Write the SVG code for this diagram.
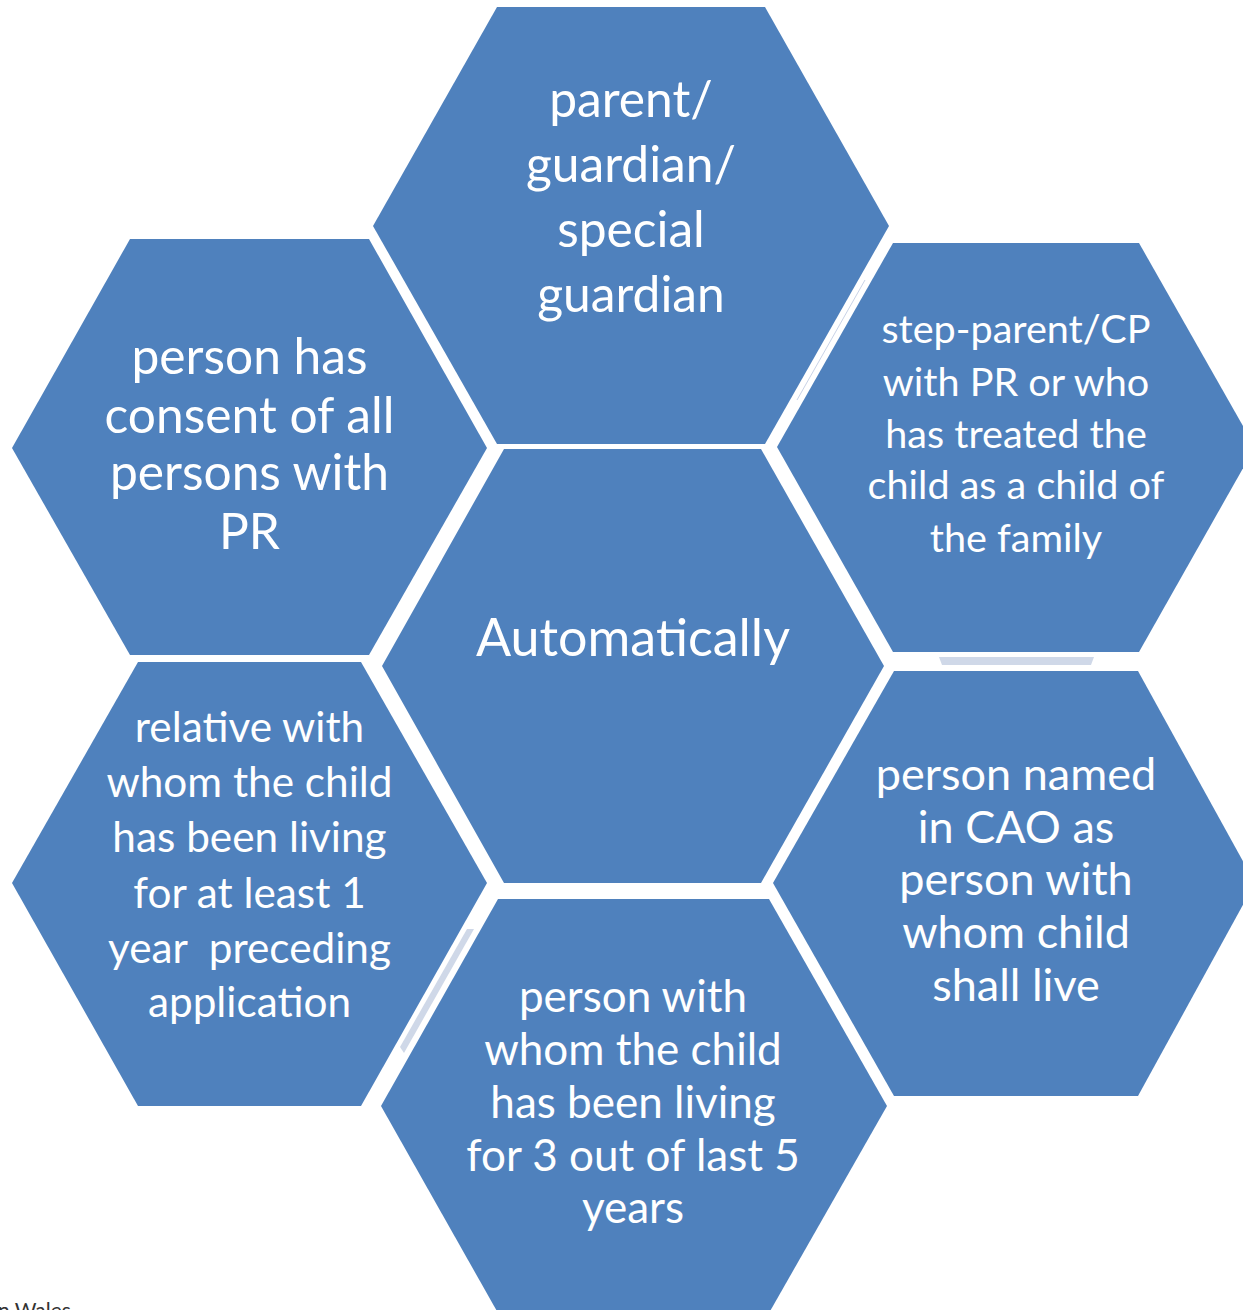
<svg xmlns="http://www.w3.org/2000/svg" width="1243" height="1310" viewBox="0 0 1243 1310">
<style>
.hex{fill:#4F81BD;}
.t{fill:#FFFFFF;font-family:Lato,"Open Sans",sans-serif;text-anchor:middle;}
.bar{fill:#CFD8E8;}
.foot{fill:#333333;font-family:Lato,"Open Sans",sans-serif;font-size:21px;}
</style>
<rect width="1243" height="1310" fill="#FFFFFF"/>
<g id="connectors">
<polygon class="bar" points="939,657 1094,657 1091,665 942,665"/>
<polygon class="bar" points="467,929 474,929 404,1053 400,1047"/>
<line x1="865" y1="280" x2="797" y2="400" stroke="#C9D3E7" stroke-width="1"/>
</g>
<g id="node-top">
<polygon class="hex" points="497,7 765,7 889,226 765,444 497,444 373,226"/>
<text class="t" font-size="49.7"><tspan x="631" y="117">parent/</tspan><tspan x="631" y="182">guardian/</tspan><tspan x="631" y="247">special</tspan><tspan x="631" y="312">guardian</tspan></text>
</g>
<g id="node-topleft">
<polygon class="hex" points="130,239 369,239 487,448 369,655 130,655 12,448"/>
<text class="t" font-size="49.7"><tspan x="249.5" y="374">person has</tspan><tspan x="249.5" y="433">consent of all</tspan><tspan x="249.5" y="490">persons with</tspan><tspan x="249.5" y="549">PR</tspan></text>
</g>
<g id="node-center">
<polygon class="hex" points="504,449 761,449 884,666 761,883 504,883 382,666"/>
<text class="t" font-size="52" x="633" y="656">Automatically</text>
</g>
<g id="node-topright">
<polygon class="hex" points="893,243 1139,243 1255,447 1139,652 893,652 777,447"/>
<text class="t" font-size="39.6"><tspan x="1016" y="343">step-parent/CP</tspan><tspan x="1016" y="396">with PR or who</tspan><tspan x="1016" y="448">has treated the</tspan><tspan x="1016" y="499">child as a child of</tspan><tspan x="1016" y="552">the family</tspan></text>
</g>
<g id="node-bottomleft">
<polygon class="hex" points="138,662 361,662 487,883 361,1106 138,1106 12,883"/>
<text class="t" font-size="42.3" xml:space="preserve"><tspan x="249.5" y="742">relative with</tspan><tspan x="249.5" y="797">whom the child</tspan><tspan x="249.5" y="852">has been living</tspan><tspan x="249.5" y="908">for at least 1</tspan><tspan x="249.5" y="963">year  preceding</tspan><tspan x="249.5" y="1017">application</tspan></text>
</g>
<g id="node-bottomright">
<polygon class="hex" points="894,671 1138,671 1255,883 1138,1096 894,1096 773,883"/>
<text class="t" font-size="45"><tspan x="1016" y="790">person named</tspan><tspan x="1016" y="843">in CAO as</tspan><tspan x="1016" y="895">person with</tspan><tspan x="1016" y="948">whom child</tspan><tspan x="1016" y="1001">shall live</tspan></text>
</g>
<g id="node-bottom">
<polygon class="hex" points="498,899 769,899 887,1106 769,1313 498,1313 381,1106"/>
<text class="t" font-size="44"><tspan x="633" y="1012">person with</tspan><tspan x="633" y="1065">whom the child</tspan><tspan x="633" y="1118">has been living</tspan><tspan x="633" y="1171">for 3 out of last 5</tspan><tspan x="633" y="1223">years</tspan></text>
</g>
<text class="foot" x="-2" y="1318">n Wales</text>
</svg>
